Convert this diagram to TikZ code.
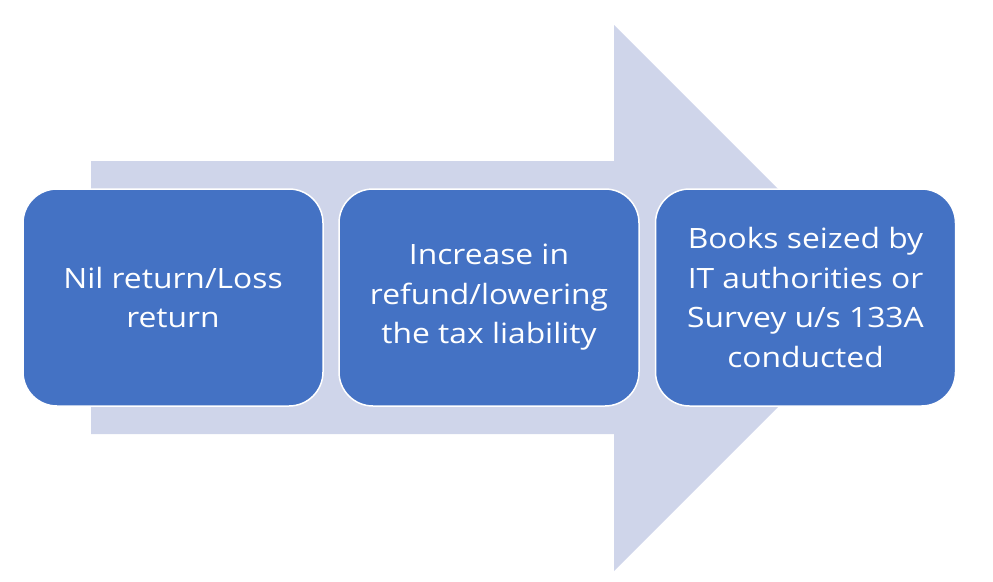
\documentclass[tikz,border=0pt]{standalone}
\usepackage{fontspec}
\setmainfont[FakeStretch=1.135]{Open Sans}
\definecolor{boxblue}{HTML}{4472C4}
\definecolor{arrowfill}{HTML}{CFD5EA}
\begin{document}
\begin{tikzpicture}[x=1pt,y=-1pt,
  stepbox/.style={draw=white, line width=1.5pt, fill=boxblue, rounded corners=34pt,
    minimum width=300pt, minimum height=217pt, align=center, text=white,
    font=\fontsize{28}{39.5}\selectfont, inner sep=0pt}]
\useasboundingbox (0,0) rectangle (993,581);
\fill[arrowfill] (91,161) -- (614,161) -- (614,25) -- (887,298) -- (614,571) -- (614,434) -- (91,434) -- cycle;
\node[stepbox] (b1) at (173,297.5) {Nil return/Loss\\return};
\node[stepbox] (b2) at (489,297.5) {Increase in\\refund/lowering\\the tax liability};
\node[stepbox] (b3) at (805.5,297.5) {Books seized by\\IT authorities or\\Survey u/s 133A\\conducted};
\end{tikzpicture}
\end{document}
